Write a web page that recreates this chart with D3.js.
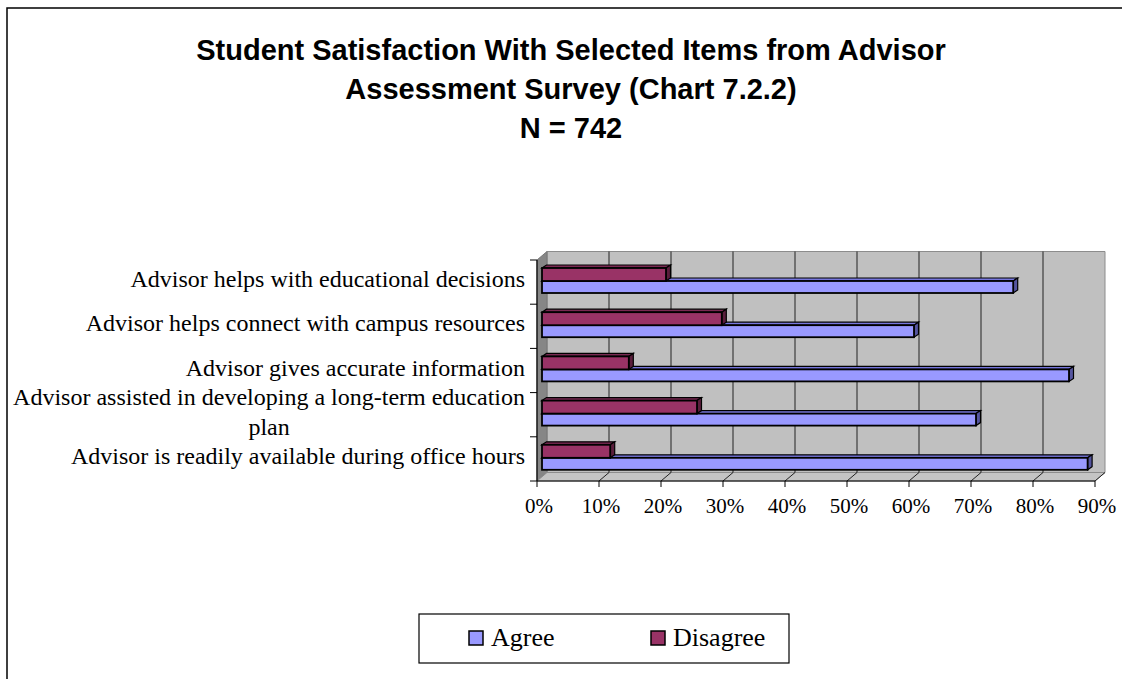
<!DOCTYPE html>
<html>
<head>
<meta charset="utf-8">
<script src="https://cdn.jsdelivr.net/npm/d3@7/dist/d3.min.js"></script>
<style>
  body { margin: 0; background: #fff; }
  svg { display: block; }
</style>
</head>
<body>
<svg id="chart" width="1122" height="679"></svg>
<script>
// categories listed top to bottom, as on the chart
const categories = [
    "Advisor helps with educational decisions",
    "Advisor helps connect with campus resources",
    "Advisor gives accurate information",
    "Advisor assisted in developing a long-term education plan",
    "Advisor is readily available during office hours"
];
const agree    = [76, 60, 85, 70, 88];
const disagree = [20, 29, 14, 25, 11];
const xTicks = [0, 10, 20, 30, 40, 50, 60, 70, 80, 90];
const titleLines = [
    "Student Satisfaction With Selected Items from Advisor",
    "Assessment Survey (Chart 7.2.2)",
    "N = 742"
];
const seriesNames = ["Agree", "Disagree"];

const colours = {
    Agree:    {front: '#9999ff', top: '#7777dd', side: '#55559f'},
    Disagree: {front: '#993366', top: '#7a2952', side: '#5a1e3c'}
};

const svg = d3.select('#chart');
const wall = {dx: 10, dy: -8.5};   // depth of the 3d box
const bar = {dx: 4.5, dy: -3, shift: 5}; // depth of bars, offset into the box

let x = d3.scaleLinear().domain([0, 90]).range([537, 1095]);
let y = d3.scaleBand().domain(categories).range([260, 481]);

// outer frame, runs off the right and bottom of the picture
svg.append('rect')
    .attr('x', 7).attr('y', 8)
    .attr('width', 1140).attr('height', 700)
    .attr('fill', 'none')
    .attr('stroke', '#000')
    .attr('stroke-width', 1.5);

// title
svg.append('g')
    .selectAll('text')
        .data(titleLines)
    .enter()
    .append('text')
        .attr('x', 571)
        .attr('y', (d, i) => 60 + i * 39)
        .attr('text-anchor', 'middle')
        .style('font-family', 'Liberation Sans, Arial, sans-serif')
        .style('font-weight', 'bold')
        .style('font-size', '29px')
        .text(d => d);

// walls
const [x0, x1] = x.range();
const [yTop, yBot] = y.range();
const box = svg.append('g');

box.append('polygon')   // back wall
    .attr('points', [[x0 + wall.dx, yTop + wall.dy], [x1 + wall.dx, yTop + wall.dy],
                     [x1 + wall.dx, yBot + wall.dy], [x0 + wall.dx, yBot + wall.dy]].join(' '))
    .attr('fill', '#c0c0c0')
    .attr('stroke', '#8c8c8c');

box.append('polygon')   // left wall
    .attr('points', [[x0, yTop], [x0 + wall.dx, yTop + wall.dy],
                     [x0 + wall.dx, yBot + wall.dy], [x0, yBot]].join(' '))
    .attr('fill', '#868686')
    .attr('stroke', '#777');

box.append('polygon')   // floor
    .attr('points', [[x0, yBot], [x0 + wall.dx, yBot + wall.dy],
                     [x1 + wall.dx, yBot + wall.dy], [x1, yBot]].join(' '))
    .attr('fill', '#c4c4c4')
    .attr('stroke', '#8c8c8c');

// gridlines on the back wall and their floor lines
box.selectAll('.grid')
        .data(xTicks.slice(1, -1))
    .enter()
    .append('line')
        .classed('grid', true)
        .attr('x1', d => x(d) + wall.dx).attr('x2', d => x(d) + wall.dx)
        .attr('y1', yTop + wall.dy).attr('y2', yBot + wall.dy)
        .attr('stroke', '#222')
        .attr('stroke-width', 1);

box.selectAll('.floor-line')
        .data(xTicks.slice(1))
    .enter()
    .append('line')
        .classed('floor-line', true)
        .attr('x1', d => x(d)).attr('y1', yBot)
        .attr('x2', d => x(d) + wall.dx).attr('y2', yBot + wall.dy)
        .attr('stroke', '#222')
        .attr('stroke-width', 1);

// axes
box.append('line')
    .attr('x1', x0).attr('x2', x0).attr('y1', yTop).attr('y2', yBot)
    .attr('stroke', '#000').attr('stroke-width', 1.2);
box.append('line')
    .attr('x1', x0).attr('x2', x1).attr('y1', yBot).attr('y2', yBot)
    .attr('stroke', '#000').attr('stroke-width', 1.2);

box.selectAll('.ytick')
        .data(d3.range(categories.length + 1))
    .enter()
    .append('line')
        .attr('x1', x0 - 7).attr('x2', x0)
        .attr('y1', i => yTop + i * y.step()).attr('y2', i => yTop + i * y.step())
        .attr('stroke', '#000');

box.selectAll('.xtick')
        .data(xTicks)
    .enter()
    .append('line')
        .attr('x1', d => x(d)).attr('x2', d => x(d))
        .attr('y1', yBot).attr('y2', yBot + 6)
        .attr('stroke', '#000');

box.selectAll('.xlabel')
        .data(xTicks)
    .enter()
    .append('text')
        .attr('x', d => x(d) + 2)
        .attr('y', 513)
        .attr('text-anchor', 'middle')
        .style('font-family', 'Liberation Serif, Times New Roman, serif')
        .style('font-size', '21px')
        .text(d => d + '%');

// bars
function drawBar(g, value, top, h, c) {
    const bx0 = x(0) + bar.shift, bx1 = x(value) + bar.shift, by1 = top + h;
    g.append('polygon')
        .attr('points', [[bx0, top], [bx0 + bar.dx, top + bar.dy], [bx1 + bar.dx, top + bar.dy], [bx1, top]].join(' '))
        .attr('fill', c.top).attr('stroke', '#000').attr('stroke-width', 1.2);
    g.append('polygon')
        .attr('points', [[bx1, top], [bx1 + bar.dx, top + bar.dy], [bx1 + bar.dx, by1 + bar.dy], [bx1, by1]].join(' '))
        .attr('fill', c.side).attr('stroke', '#000').attr('stroke-width', 1.2);
    g.append('rect')
        .attr('x', bx0).attr('y', top)
        .attr('width', bx1 - bx0).attr('height', h)
        .attr('fill', c.front).attr('stroke', '#000').attr('stroke-width', 1.8);
}

const bars = svg.append('g');
categories.forEach((cat, i) => {
    const b = y(cat);
    drawBar(bars, agree[i], b + 21, 12, colours.Agree);
    drawBar(bars, disagree[i], b + 8, 13, colours.Disagree);
});

// category labels, wrapped like the original
const labelRight = 525, maxWidth = 520;
const labels = svg.append('g')
    .style('font-family', 'Liberation Serif, Times New Roman, serif')
    .style('font-size', '24px');

categories.forEach(cat => {
    const words = cat.split(' ');
    const probe = labels.append('text');
    let lines = [], line = [];
    words.forEach(w => {
        probe.text(line.concat(w).join(' '));
        if (probe.node().getComputedTextLength() > maxWidth && line.length) {
            lines.push(line.join(' '));
            line = [w];
        } else {
            line.push(w);
        }
    });
    lines.push(line.join(' '));
    probe.remove();

    const lh = 30;
    const mid = y(cat) + y.bandwidth() / 2 + 5;
    let firstW = 0;
    lines.forEach((l, j) => {
        const t = labels.append('text')
            .attr('y', mid + (j - (lines.length - 1) / 2) * lh)
            .text(l);
        if (j === 0) {
            firstW = t.node().getComputedTextLength();
            t.attr('x', labelRight).attr('text-anchor', 'end');
        } else {
            t.attr('x', labelRight - firstW / 2).attr('text-anchor', 'middle');
        }
    });
});

// legend
const legend = svg.append('g');
legend.append('rect')
    .attr('x', 419).attr('y', 614)
    .attr('width', 370).attr('height', 49)
    .attr('fill', '#fff')
    .attr('stroke', '#000')
    .attr('stroke-width', 1.2);

const legendX = [469, 651];
legend.selectAll('.legend__box')
        .data(seriesNames)
    .enter()
    .append('rect')
        .attr('x', (d, i) => legendX[i])
        .attr('y', 631)
        .attr('width', 14).attr('height', 14)
        .attr('fill', d => colours[d].front)
        .attr('stroke', '#000')
        .attr('stroke-width', 1.5);

legend.selectAll('.legend__text')
        .data(seriesNames)
    .enter()
    .append('text')
        .attr('x', (d, i) => legendX[i] + 22)
        .attr('y', 646)
        .style('font-family', 'Liberation Serif, Times New Roman, serif')
        .style('font-size', '26px')
        .text(d => d);
</script>
</body>
</html>
